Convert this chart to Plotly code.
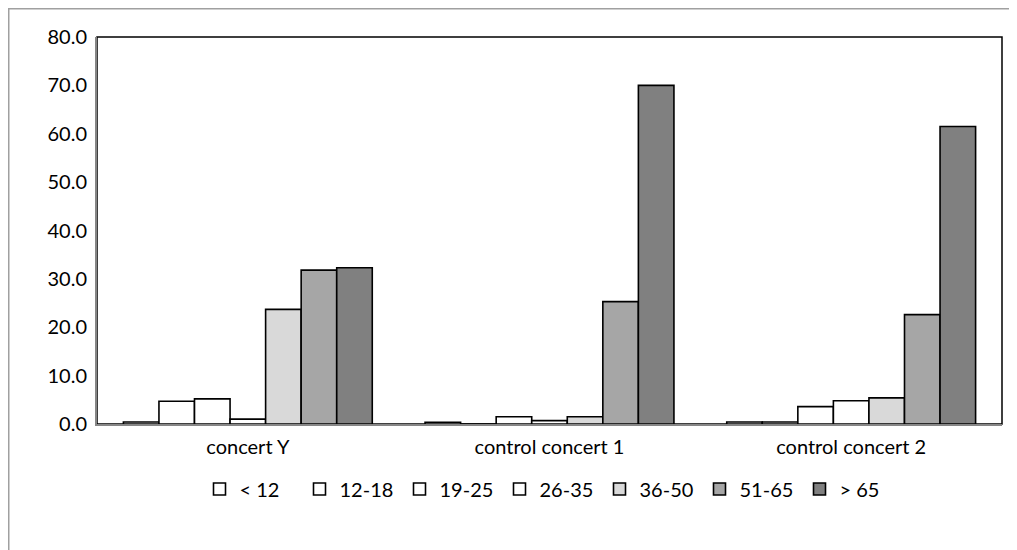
import plotly.graph_objects as go

categories = ["concert Y", "control concert 1", "control concert 2"]
age_groups = ["< 12", "12-18", "19-25", "26-35", "36-50", "51-65", "> 65"]
values_lt12 = [0.4, 0.35, 0.4]
values_12_18 = [4.7, 0.0, 0.4]
values_19_25 = [5.2, 1.5, 3.6]
values_26_35 = [1.0, 0.7, 4.8]
values_36_50 = [23.7, 1.5, 5.4]
values_51_65 = [31.8, 25.3, 22.6]
values_gt65 = [32.3, 70.0, 61.5]
colors = ["#ffffff", "#ffffff", "#ffffff", "#ffffff", "#d9d9d9", "#a6a6a6", "#808080"]
y_ticks = [0, 10, 20, 30, 40, 50, 60, 70, 80]

series = [values_lt12, values_12_18, values_19_25, values_26_35,
          values_36_50, values_51_65, values_gt65]

fig = go.Figure()
for name, vals, col in zip(age_groups, series, colors):
    fig.add_trace(go.Bar(
        x=categories, y=vals, name=name,
        marker=dict(color=col, line=dict(color="#000000", width=1.6)),
    ))

FONT = "Lato"
FS = 20
L, T, R, B = 89, 29, 23, 134
W, H = 1017, 550
pw, ph = W - L - R, H - T - B

fig.update_layout(
    width=W, height=H,
    paper_bgcolor="white", plot_bgcolor="white",
    margin=dict(l=L, r=R, t=T, b=B, autoexpand=False),
    barmode="group", bargap=0.175, bargroupgap=0,
    font=dict(family=FONT, size=FS, color="#000000"),
    showlegend=True,
    legend=dict(orientation="h", x=0.5, xanchor="center", y=-65 / ph, yanchor="middle",
                font=dict(family=FONT, size=FS, color="#000000"),
                itemwidth=30, entrywidth=55, traceorder="normal", itemclick=False),
    shapes=[
        dict(type="rect", xref="paper", yref="paper", x0=0, y0=0, x1=1, y1=1,
             line=dict(color="#000000", width=1.5), layer="below"),
        dict(type="rect", xref="paper", yref="paper",
             x0=(0.75 - L) / pw, x1=(W - 0.75 - L) / pw,
             y0=-(B - 0.75) / ph, y1=(ph + T - 0.75) / ph,
             line=dict(color="#a0a0a0", width=1.5), layer="below"),
    ],
)
fig.update_yaxes(range=[0, 80], tickvals=y_ticks, tickformat=".1f", showgrid=False,
                 showline=True, linecolor="#868686", linewidth=2, ticks="",
                 ticklabelstandoff=4, zeroline=False,
                 tickfont=dict(family=FONT, size=FS, color="#000000"))
fig.update_xaxes(showgrid=False, showline=True, linecolor="#868686", linewidth=2, ticks="",
                 ticklabelstandoff=4,
                 tickfont=dict(family=FONT, size=FS, color="#000000"))

fig.write_html("out.html")
